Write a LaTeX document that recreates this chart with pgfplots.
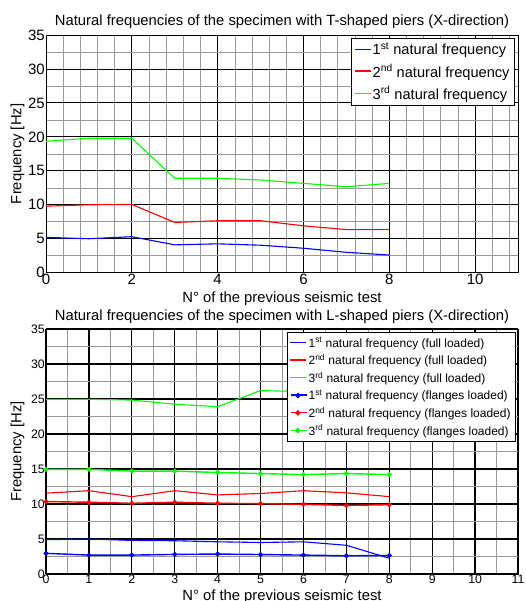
\documentclass[border=0pt]{standalone}
\usepackage{fontspec}
\setmainfont{Liberation Sans}
\usepackage{pgfplots}
\pgfplotsset{compat=1.18}

% series colours
\definecolor{mblue}{RGB}{0,0,255}
\definecolor{mred}{RGB}{255,0,0}
\definecolor{mgreen}{RGB}{0,255,0}
% legend sample colours
\definecolor{lgblue}{RGB}{1,0,255}
\definecolor{lgred}{RGB}{255,1,0}
\definecolor{lggreen}{RGB}{1,255,0}

% Shared look of both frequency plots
\pgfplotsset{
  freqaxis/.style={
    scale only axis, width=472bp,
    xmin=0, xmax=11, ymin=0, ymax=35,
    grid=both,
    major grid style={black, line width=0.9bp},
    minor grid style={gray!80, line width=0.6bp},
    axis line style={black, line width=0.9bp},
    major tick length=0pt, minor tick length=0pt,
    /pgf/number format/assume math mode=true,
    ytick={0,5,...,35},
    minor ytick={2.5,7.5,12.5,17.5,22.5,27.5,32.5},
    yticklabel style={inner sep=1bp},
    xticklabel style={inner sep=1bp},
    label style={font=\fontsize{14.8bp}{17bp}\selectfont},
    title style={font=\fontsize{14.8bp}{17bp}\selectfont, anchor=base},
    ylabel style={at={(axis description cs:-0.0604,0.5)}, anchor=center},
    xlabel={N° of the previous seismic test},
    ylabel={Frequency [Hz]},
    legend cell align=left,
  },
  % plain line series; legend sample is a coloured rule
  fl/.style 2 args={color=#1, line width=1.1bp,
    legend image code/.code={%
      \node[inner sep=0pt, anchor=west] at (0bp,0bp) {\textcolor{#2}{\rule[-0.6bp]{16bp}{1.2bp}}};}},
  % line series with dot marks; legend sample is a rule with a dot
  fm/.style 2 args={color=#1, line width=1.4bp, mark=*, mark size=1.7bp,
    mark options={solid, fill=#1, draw=#1},
    legend image code/.code={%
      \node[inner sep=0pt, anchor=west] at (0bp,0bp) {\textcolor{#2}{\rule[-0.7bp]{16bp}{1.4bp}}};
      \begin{scope}\color{#2}\fill (8bp,0bp) circle[radius=1.9bp];\end{scope}}},
}

\begin{document}
\begin{tikzpicture}
\useasboundingbox (0,0) rectangle (526bp,601bp);
\fill[white] (0,0) rectangle (526bp,601bp);
\clip (0,0) rectangle (526bp,601bp);

% T-shaped piers
\begin{axis}[freqaxis,
  at={(46bp,328.3bp)}, anchor=south west, height=237.7bp,
  xtick={0,2,...,10},
  minor xtick={0.4,0.8,1.2,1.6,2.4,2.8,3.2,3.6,4.4,4.8,5.2,5.6,6.4,6.8,7.2,7.6,8.4,8.8,9.2,9.6,10.4,10.8},
  ticklabel style={font=\fontsize{15bp}{18bp}\selectfont},
  title={Natural frequencies of the specimen with T-shaped piers (X-direction)},
  title style={at={(axis description cs:0.5,1)}, yshift=4bp},
  xlabel style={at={(axis description cs:0.5,0)}, anchor=base, yshift=-29.8bp},
  legend style={at={(1,1)}, anchor=north east, xshift=-3bp, yshift=-2.7bp,
    draw=black, fill=white, line width=0.9bp, inner sep=3bp, row sep=4bp,
    font=\fontsize{14.6bp}{17bp}\selectfont},
]
\addplot[fl={mblue}{lgblue}] coordinates {(0,5.2) (1,5.0) (2,5.3) (3,4.1) (4,4.25) (5,4.05) (6,3.6) (7,3.0) (8,2.6)};
\addlegendentry{1\textsuperscript{st} natural frequency}
\addplot[fl={mred}{lgred}] coordinates {(0,9.8) (1,10.0) (2,10.05) (3,7.4) (4,7.65) (5,7.65) (6,6.9) (7,6.35) (8,6.35)};
\addlegendentry{2\textsuperscript{nd} natural frequency}
\addplot[fl={mgreen}{lggreen}] coordinates {(0,19.35) (1,19.8) (2,19.8) (3,13.9) (4,13.9) (5,13.65) (6,13.15) (7,12.65) (8,13.15)};
\addlegendentry{3\textsuperscript{rd} natural frequency}
\end{axis}

% L-shaped piers
\begin{axis}[freqaxis,
  at={(46bp,27bp)}, anchor=south west, height=245bp,
  major grid style={black, line width=1.2bp},
  xtick={0,1,...,11},
  minor xtick={0.5,1.5,...,10.5},
  ticklabel style={font=\fontsize{12.3bp}{14bp}\selectfont},
  title={Natural frequencies of the specimen with L-shaped piers (X-direction)},
  title style={at={(axis description cs:0.5,1)}, yshift=2.6bp},
  xlabel style={at={(axis description cs:0.5,0)}, anchor=base, yshift=-26.6bp},
  legend style={at={(1,1)}, anchor=north east, xshift=-2bp, yshift=-3bp,
    draw=black, fill=white, line width=0.9bp, inner sep=3bp, row sep=1.8bp,
    font=\fontsize{12bp}{14bp}\selectfont},
]
\addplot[fl={mblue}{lgblue}] coordinates {(0,4.9) (1,5.0) (2,4.8) (3,4.75) (4,4.6) (5,4.5) (6,4.6) (7,4.1) (8,2.25)};
\addlegendentry{1\textsuperscript{st} natural frequency (full loaded)}
\addplot[fl={mred}{lgred}] coordinates {(0,11.55) (1,11.9) (2,11.05) (3,11.9) (4,11.3) (5,11.5) (6,11.9) (7,11.6) (8,11.05)};
\addlegendentry{2\textsuperscript{nd} natural frequency (full loaded)}
\addplot[fl={mgreen}{lggreen}] coordinates {(0,24.95) (1,24.95) (2,24.85) (3,24.25) (4,23.9) (5,26.2) (6,26.05) (7,26.0) (8,25.9)};
\addlegendentry{3\textsuperscript{rd} natural frequency (full loaded)}
\addplot[fm={mblue}{lgblue}] coordinates {(0,2.95) (1,2.7) (2,2.7) (3,2.8) (4,2.85) (5,2.78) (6,2.7) (7,2.6) (8,2.65)};
\addlegendentry{1\textsuperscript{st} natural frequency (flanges loaded)}
\addplot[fm={mred}{lgred}] coordinates {(0,10.35) (1,10.25) (2,10.1) (3,10.25) (4,10.1) (5,10.05) (6,9.95) (7,9.8) (8,9.9)};
\addlegendentry{2\textsuperscript{nd} natural frequency (flanges loaded)}
\addplot[fm={mgreen}{lggreen}] coordinates {(0,14.95) (1,14.95) (2,14.7) (3,14.7) (4,14.5) (5,14.35) (6,14.2) (7,14.35) (8,14.2)};
\addlegendentry{3\textsuperscript{rd} natural frequency (flanges loaded)}
\end{axis}
\end{tikzpicture}
\end{document}
